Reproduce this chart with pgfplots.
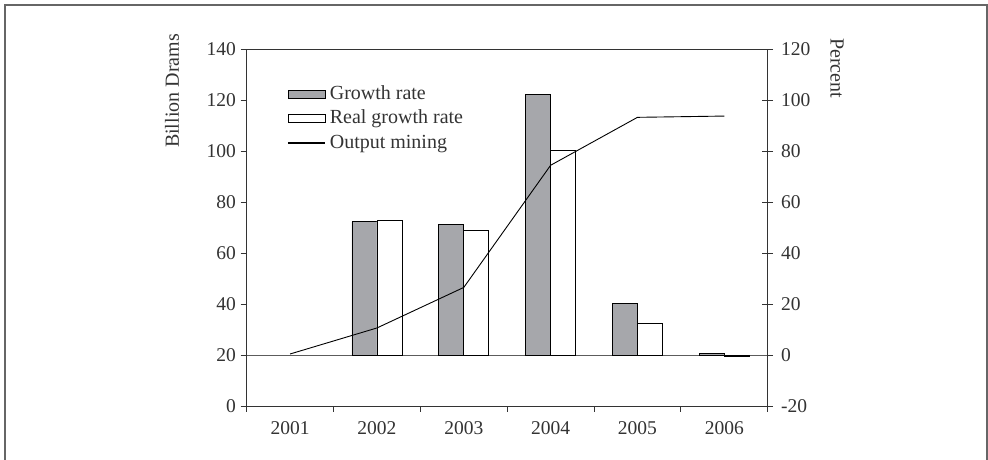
\documentclass[border=0pt]{standalone}
\usepackage{pgfplots}
\pgfplotsset{compat=1.18}
\usepackage{fontspec}
\setmainfont{Liberation Serif}
\definecolor{txt}{HTML}{333333}
\definecolor{barg}{HTML}{A6A7AB}
\definecolor{framec}{HTML}{666666}
\begin{document}
\fontsize{20}{24}\selectfont
\begin{tikzpicture}[x=1pt,y=1pt]
\path[use as bounding box] (0,0) rectangle (988,460);
\draw[framec, line width=2pt] (4.5,0) -- (4.5,455) -- (986.5,455) -- (986.5,0);
% right axis with bars (percent)
\begin{axis}[
  at={(246.7pt,54pt)}, anchor=south west, scale only axis,
  width=521pt, height=357pt,
  xmin=0, xmax=6, ymin=-20, ymax=120,
  axis y line*=right, axis x line=none,
  ytick={-20,0,...,120},
  tick align=center, major tick length=11pt,
  every tick/.style={txt, line width=0.8pt},
  axis line style={txt, line width=0.8pt},
  /pgf/number format/assume math mode=true,
  yticklabel style={font=\fontsize{19.5}{23}\selectfont, text=txt, xshift=1pt},
]
\draw[txt!80, line width=0.8pt] (axis cs:0,0) -- (axis cs:6,0);
\addplot[ybar, bar width=25pt, bar shift=-12.5pt, fill=barg, draw=black, line width=0.8pt]
  coordinates {(1.5,52.2) (2.5,51.3) (3.5,102.1) (4.5,20.1) (5.5,0.5)};
\addplot[ybar, bar width=25pt, bar shift=12.5pt, fill=white, draw=black, line width=0.8pt]
  coordinates {(1.5,52.7) (2.5,48.7) (3.5,80.4) (4.5,12.5) (5.5,-0.4)};
\end{axis}
% left axis with line (billion drams)
\begin{axis}[
  at={(246.7pt,54pt)}, anchor=south west, scale only axis,
  width=521pt, height=357pt,
  xmin=0, xmax=6, ymin=0, ymax=140,
  ytick={0,20,...,140}, ytick pos=left,
  xtick={0,1,...,6}, xtick pos=bottom,
  xticklabels={2001,2002,2003,2004,2005,2006},
  x tick label as interval,
  tick align=outside, major tick length=6pt,
  every tick/.style={txt, line width=0.8pt},
  axis line style={txt, line width=0.8pt},
  /pgf/number format/assume math mode=true,
  /pgf/number format/set thousands separator={},
  ticklabel style={font=\fontsize{19.5}{23}\selectfont, text=txt},
  yticklabel style={xshift=2pt},
  xticklabel style={yshift=-3pt},
  legend style={at={(rel axis cs:0.077,0.899)}, anchor=north west, draw=none, fill=none,
    font=\fontsize{20}{24}\selectfont, text=txt, row sep=6.5pt, inner sep=0pt,
    nodes={inner xsep=4pt, inner ysep=0pt, text height=14pt, text depth=4pt}},
  legend cell align=left,
]
\addlegendimage{legend image code/.code={\draw[fill=barg,draw=black,line width=0.8pt] (0pt,-4pt) rectangle (37pt,4pt);}}
\addlegendentry{Growth rate}
\addlegendimage{legend image code/.code={\draw[fill=white,draw=black,line width=0.8pt] (0pt,-4pt) rectangle (37pt,4pt);}}
\addlegendentry{Real growth rate}
\addplot[black, line width=0.9pt, mark=none,
  legend image code/.code={\draw[black,line width=1.8pt] (0pt,0pt) -- (37pt,0pt);}]
  coordinates {(0.5,20.4) (1.5,30.6) (2.5,46.5) (3.5,94.4) (4.5,113.2) (5.5,113.7)};
\addlegendentry{Output mining}
\end{axis}
\node[rotate=90, text=txt, font=\fontsize{20}{24}\selectfont] at (172,369) {Billion Drams};
\node[rotate=-90, text=txt, font=\fontsize{20}{24}\selectfont] at (837,392) {Percent};
\end{tikzpicture}
\end{document}
